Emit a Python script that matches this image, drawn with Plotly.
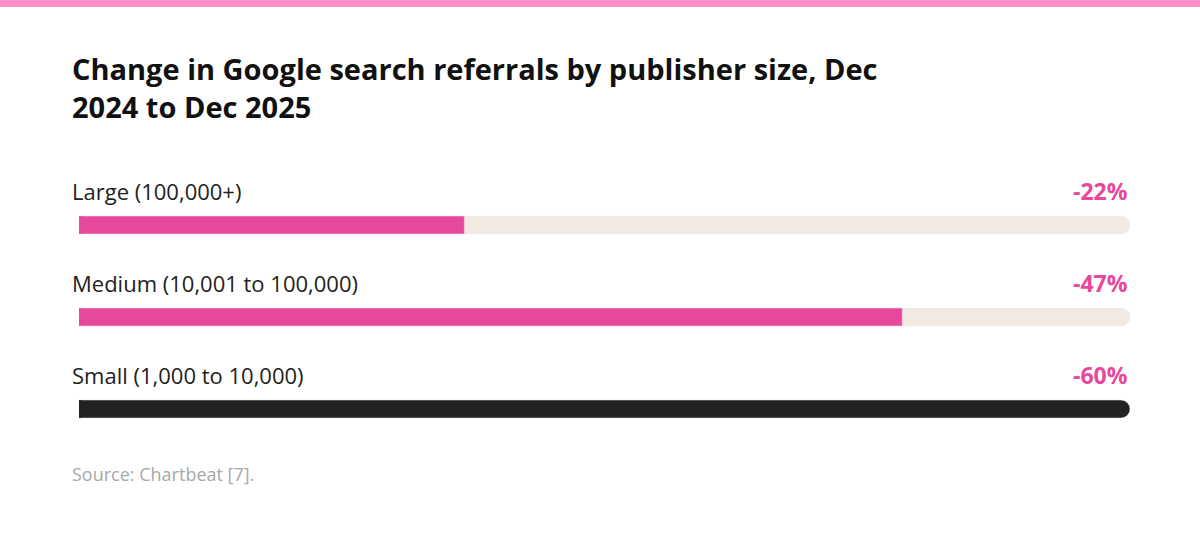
import plotly.graph_objects as go

categories = ["Large (100,000+)", "Medium (10,001 to 100,000)", "Small (1,000 to 10,000)"]
changes = [-22, -47, -60]
value_labels = ["-22%", "-47%", "-60%"]
bar_colors = ["#e8489b", "#e8489b", "#222222"]

W, H = 1200, 557
px_per_row = 92
top = -225 / px_per_row
bottom = top + H / px_per_row
scale_max = max(abs(v) for v in changes)
FONT = "Open Sans"

fig = go.Figure()
fig.add_trace(go.Bar(
    y=categories, x=[scale_max] * len(categories), orientation="h",
    marker_color="#f1e9e2", width=18 / px_per_row, hoverinfo="skip",
))
fig.add_trace(go.Bar(
    y=categories, x=[abs(v) for v in changes], orientation="h",
    marker_color=bar_colors, width=18 / px_per_row,
))
# round left caps
fig.add_trace(go.Scatter(
    y=categories, x=[0] * len(categories), mode="markers",
    marker=dict(size=18, color=bar_colors, line_width=0), hoverinfo="skip",
))

for cat, lab in zip(categories, value_labels):
    fig.add_annotation(x=0, y=cat, text=cat, xanchor="left", yanchor="middle",
                       xshift=-9, yshift=34, showarrow=False,
                       font=dict(size=22, color="#222222", family=FONT))
    fig.add_annotation(x=scale_max, y=cat, text="<b>" + lab + "</b>", xanchor="right",
                       yanchor="middle", yshift=34, showarrow=False,
                       font=dict(size=23, color="#e8489b", family=FONT))

fig.add_annotation(x=70 / W, y=1 - 88 / H, xref="paper", yref="paper",
                   text="<b>Change in Google search referrals by publisher size, Dec<br>2024 to Dec 2025</b>",
                   xanchor="left", yanchor="middle", align="left", showarrow=False,
                   font=dict(size=29, color="#111111", family=FONT))
fig.add_annotation(x=70 / W, y=1 - 474 / H, xref="paper", yref="paper",
                   text="Source: Chartbeat [7].", xanchor="left", yanchor="middle",
                   showarrow=False, font=dict(size=18, color="#a8a8a8", family=FONT))

fig.add_shape(type="rect", xref="paper", yref="paper", x0=0, x1=1, y0=1 - 7 / H, y1=1,
              fillcolor="#ff90c8", line_width=0)

fig.update_layout(
    width=W, height=H, margin=dict(l=0, r=0, t=0, b=0),
    paper_bgcolor="white", plot_bgcolor="white",
    barmode="overlay", barcornerradius=9, showlegend=False,
    xaxis=dict(range=[0, scale_max], domain=[79 / W, 1130 / W], visible=False, fixedrange=True),
    yaxis=dict(range=[bottom, top], visible=False, fixedrange=True),
)

fig.write_html("out.html", config={"displayModeBar": False},
               post_script="document.body.style.margin='0';")
